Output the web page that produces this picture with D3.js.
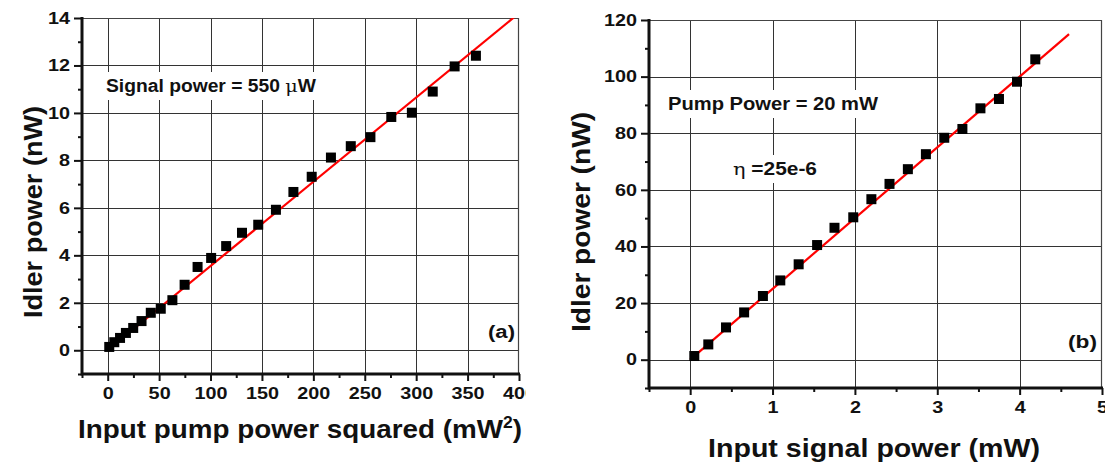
<!DOCTYPE html>
<html>
<head>
<meta charset="utf-8">
<script src="https://cdn.jsdelivr.net/npm/d3@7"></script>
<style>
  html, body { margin: 0; padding: 0; background: #fff; }
  svg { display: block; }
  text { font-family: "Liberation Sans", Arial, sans-serif; font-weight: bold; fill: #111; }
  .greek { font-family: "DejaVu Serif", "Liberation Serif", serif; font-weight: normal; }
</style>
</head>
<body>
<svg id="fig" width="1105" height="466"></svg>
<script>
// (a) idler power versus the square of the input pump power
const pumpSq = [1.5, 6.4, 12, 17.7, 24.8, 32.9, 41.9, 51.6, 62.9, 74.8, 87.4, 100.6, 115.2,
                130.6, 146.4, 163.6, 180.6, 198.4, 217.1, 236.4, 255.5, 275.8, 295.8, 316.1, 337.4, 358.1];
const idlerA = [0.14, 0.34, 0.52, 0.73, 0.94, 1.23, 1.58, 1.75, 2.11, 2.76, 3.51, 3.89, 4.39,
                4.95, 5.29, 5.92, 6.67, 7.31, 8.12, 8.60, 8.98, 9.83, 10.01, 10.90, 11.96, 12.41];
const fitSlopeA = 0.0355;          // nW per mW^2
const fitRangeA = [0, 395];

// (b) idler power versus the input signal power
const signalP = [0.05, 0.22, 0.435, 0.655, 0.883, 1.094, 1.317, 1.541, 1.752, 1.98,
                 2.2, 2.42, 2.643, 2.862, 3.085, 3.305, 3.524, 3.749, 3.968, 4.19];
const idlerB = [1.3, 5.4, 11.4, 16.7, 22.5, 28.0, 33.7, 40.5, 46.6, 50.3,
                56.7, 62.1, 67.3, 72.6, 78.4, 81.5, 88.8, 92.1, 98.2, 106.1];
const fitSlopeB = 25;              // nW per mW (eta = 25e-6)
const fitRangeB = [0, 4.6];

// axis ticks
const xMajorA = [0, 50, 100, 150, 200, 250, 300, 350, 400];
const xMinorA = [-25, 25, 75, 125, 175, 225, 275, 325, 375];
const yMajorA = [0, 2, 4, 6, 8, 10, 12, 14];
const yMinorA = [-1, 1, 3, 5, 7, 9, 11, 13];
const xMajorB = [0, 1, 2, 3, 4, 5];
const xMinorB = [-0.5, 0.5, 1.5, 2.5, 3.5, 4.5];
const yMajorB = [0, 20, 40, 60, 80, 100, 120];
const yMinorB = [-10, 10, 30, 50, 70, 90, 110];

const svg = d3.select("#fig");
const TICK_STRETCH = 1.2;   // wide tick numerals

function panel(cfg) {
  const g = svg.append("g");
  const x = d3.scaleLinear().domain(cfg.xDomain).range([cfg.left, cfg.right]);
  const y = d3.scaleLinear().domain(cfg.yDomain).range([cfg.bottom, cfg.top]);
  const clipId = "clip-" + cfg.id;
  g.append("clipPath").attr("id", clipId).append("rect")
    .attr("x", cfg.left).attr("y", cfg.top)
    .attr("width", cfg.right - cfg.left).attr("height", cfg.bottom - cfg.top);

  // grid
  const grid = g.append("g").attr("stroke", "#333").attr("stroke-width", 1);
  grid.selectAll("line.gx").data(cfg.xMajor.filter(v => v > cfg.xDomain[0] && v < cfg.xDomain[1]))
    .join("line").attr("x1", d => Math.round(x(d)) + 0.5).attr("x2", d => Math.round(x(d)) + 0.5)
    .attr("y1", cfg.top).attr("y2", cfg.bottom);
  grid.selectAll("line.gy").data(cfg.yMajor.filter(v => v > cfg.yDomain[0] && v < cfg.yDomain[1]))
    .join("line").attr("y1", d => Math.round(y(d)) + 0.5).attr("y2", d => Math.round(y(d)) + 0.5)
    .attr("x1", cfg.left).attr("x2", cfg.right);

  // frame (top and right)
  g.append("path")
    .attr("d", `M${cfg.left},${cfg.top + 0.5}H${cfg.right - 0.5}V${cfg.bottom}`)
    .attr("fill", "none").attr("stroke", "#444").attr("stroke-width", 1.2);

  // annotations, some on white boxes
  cfg.notes.forEach(n => {
    const t = g.append("text").attr("x", n.x).attr("y", n.y)
      .attr("font-size", n.size).attr("text-anchor", n.anchor || "start");
    if (n.width) t.attr("textLength", n.width).attr("lengthAdjust", "spacingAndGlyphs");
    n.parts.forEach(p => {
      const ts = t.append("tspan").text(p.t);
      if (p.greek) ts.attr("class", "greek");
    });
    if (n.box) {
      const bb = t.node().getBBox();
      g.insert("rect", "text").attr("x", bb.x - 3).attr("y", bb.y - 4)
        .attr("width", bb.width + 6).attr("height", bb.height + 8).attr("fill", "#fff");
    }
  });

  // fit line
  g.append("line")
    .attr("clip-path", `url(#${clipId})`)
    .attr("x1", x(cfg.fitRange[0])).attr("y1", y(cfg.fitSlope * cfg.fitRange[0]))
    .attr("x2", x(cfg.fitRange[1])).attr("y2", y(cfg.fitSlope * cfg.fitRange[1]))
    .attr("stroke", "#f00").attr("stroke-width", 2.2);

  // data squares
  const s = 10;
  g.selectAll("rect.pt").data(cfg.xs.map((v, i) => [v, cfg.ys[i]]))
    .join("rect").attr("class", "pt")
    .attr("x", d => x(d[0]) - s / 2).attr("y", d => y(d[1]) - s / 2)
    .attr("width", s).attr("height", s).attr("fill", "#000");

  // axes
  const ax = (gen, tx, ty) => {
    const a = g.append("g").attr("transform", `translate(${tx},${ty})`).call(gen);
    a.select(".domain").remove();
    a.selectAll(".tick line").attr("stroke", "#111").attr("stroke-width", 2);
    a.selectAll("text").attr("font-size", 16.5).attr("fill", "#111")
      .attr("font-family", "Liberation Sans, Arial, sans-serif").attr("font-weight", "bold")
      .attr("transform", function () {
        const x0 = +this.getAttribute("x") || 0;
        return `translate(${x0},0) scale(${TICK_STRETCH},1) translate(${-x0},0)`;
      });
    return a;
  };
  ax(d3.axisBottom(x).tickValues(cfg.xMajor).tickSize(7).tickPadding(6).tickFormat(d3.format("d")), 0, cfg.bottom);
  ax(d3.axisBottom(x).tickValues(cfg.xMinor).tickSize(4).tickFormat(""), 0, cfg.bottom);
  ax(d3.axisLeft(y).tickValues(cfg.yMajor).tickSize(8).tickPadding(4).tickFormat(d3.format("d")), cfg.left, 0);
  ax(d3.axisLeft(y).tickValues(cfg.yMinor).tickSize(4).tickFormat(""), cfg.left, 0);

  // thick left and bottom axis lines
  g.append("path")
    .attr("d", `M${cfg.left},${cfg.top - 1}V${cfg.bottom}H${cfg.right + 1}`)
    .attr("fill", "none").attr("stroke", "#111").attr("stroke-width", 3);

  // axis titles
  const xt = g.append("text").attr("x", cfg.xTitleX).attr("y", cfg.xTitleY)
    .attr("text-anchor", "middle").attr("font-size", 25.5)
    .attr("textLength", cfg.xTitleW).attr("lengthAdjust", "spacingAndGlyphs");
  xt.append("tspan").text(cfg.xTitle[0]);
  if (cfg.xTitle[1]) {
    xt.append("tspan").attr("font-size", 16).attr("dy", -10).text(cfg.xTitle[1]);
    xt.append("tspan").attr("dy", 10).text(cfg.xTitle[2]);
  }
  g.append("text")
    .attr("transform", `translate(${cfg.yTitleX},${cfg.yTitleC}) rotate(-90)`)
    .attr("text-anchor", "middle").attr("font-size", 25.5)
    .attr("textLength", cfg.yTitleW).attr("lengthAdjust", "spacingAndGlyphs")
    .text(cfg.yTitle);
  return g;
}

panel({
  id: "a", left: 82, right: 519, top: 18, bottom: 374,
  xDomain: [-25, 400], yDomain: [-1, 14],
  xMajor: xMajorA, xMinor: xMinorA, yMajor: yMajorA, yMinor: yMinorA,
  xs: pumpSq, ys: idlerA, fitSlope: fitSlopeA, fitRange: fitRangeA,
  xTitle: ["Input pump power squared (mW", "2", ")"], xTitleX: 300, xTitleY: 438, xTitleW: 444,
  yTitle: "Idler power (nW)", yTitleX: 42, yTitleC: 212, yTitleW: 212,
  notes: [
    { x: 106, y: 92, size: 17.5, box: true, width: 210,
      parts: [{ t: "Signal power = 550 " }, { t: "μ", greek: true }, { t: "W" }] },
    { x: 488, y: 338, size: 17.5, width: 27, parts: [{ t: "(a)" }] }
  ]
});

// blank backdrop for the second panel
svg.append("rect").attr("x", 526).attr("y", 0).attr("width", 579).attr("height", 466).attr("fill", "#fff");

panel({
  id: "b", left: 649, right: 1102, top: 20, bottom: 388,
  xDomain: [-0.5, 5], yDomain: [-10, 120],
  xMajor: xMajorB, xMinor: xMinorB, yMajor: yMajorB, yMinor: yMinorB,
  xs: signalP, ys: idlerB, fitSlope: fitSlopeB, fitRange: fitRangeB,
  xTitle: ["Input signal power (mW)"], xTitleX: 874, xTitleY: 457, xTitleW: 332,
  yTitle: "Idler power (nW)", yTitleX: 590, yTitleC: 222, yTitleW: 220,
  notes: [
    { x: 668, y: 110, size: 17.5, box: true, width: 210, parts: [{ t: "Pump Power = 20 mW" }] },
    { x: 733, y: 175, size: 17.5, box: true, width: 84,
      parts: [{ t: "η", greek: true }, { t: " =25e-6" }] },
    { x: 1068, y: 348, size: 17.5, width: 29, parts: [{ t: "(b)" }] }
  ]
});
</script>
</body>
</html>
